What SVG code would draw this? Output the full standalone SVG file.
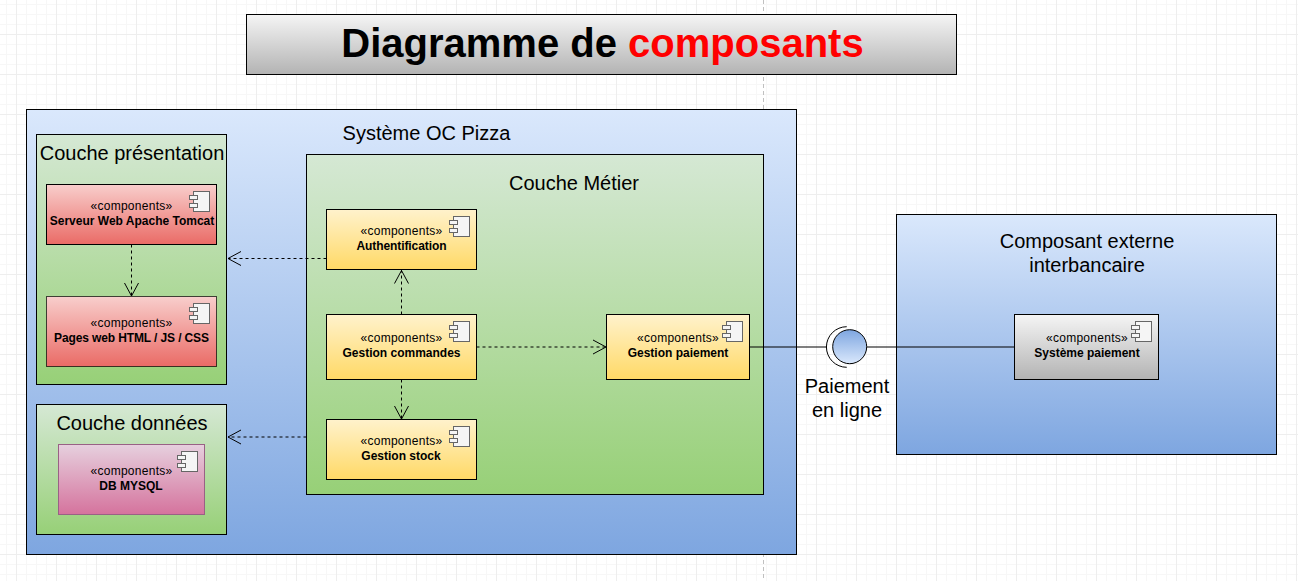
<svg xmlns="http://www.w3.org/2000/svg" xmlns:xlink="http://www.w3.org/1999/xlink" width="1298" height="581" viewBox="0 0 1298 581">
<style>
text{font-family:"Liberation Sans",Arial,sans-serif;text-anchor:middle;fill:#000}
.big{font-size:20px}
.st{font-size:12px;letter-spacing:.28px}
.nm{font-size:12px;font-weight:bold}
.box{stroke:#000;stroke-width:1}
.conn{fill:none;stroke:#000;stroke-width:1;stroke-dasharray:3 3}
.arr{fill:none;stroke:#000;stroke-width:1}
.wire{stroke:#000;stroke-opacity:.5;stroke-width:2;fill:none}
.ib{fill:#f5f5f5;stroke:#666;stroke-width:1}
.minor{stroke:#f7f7f7;stroke-width:1;fill:none}
.major{stroke:#eee;stroke-width:1;fill:none}
</style>
<defs>
<linearGradient id="gBlue" x1="0" y1="0" x2="0" y2="1"><stop offset="0" stop-color="#dae8fc"/><stop offset="1" stop-color="#7ea6e0"/></linearGradient>
<linearGradient id="gGreen" x1="0" y1="0" x2="0" y2="1"><stop offset="0" stop-color="#d5e8d4"/><stop offset="1" stop-color="#97d077"/></linearGradient>
<linearGradient id="gRed" x1="0" y1="0" x2="0" y2="1"><stop offset="0" stop-color="#f8cecc"/><stop offset="1" stop-color="#ea6b66"/></linearGradient>
<linearGradient id="gYellow" x1="0" y1="0" x2="0" y2="1"><stop offset="0" stop-color="#fff2cc"/><stop offset="1" stop-color="#ffd966"/></linearGradient>
<linearGradient id="gPink" x1="0" y1="0" x2="0" y2="1"><stop offset="0" stop-color="#e6d0de"/><stop offset="1" stop-color="#d5739d"/></linearGradient>
<linearGradient id="gGray" x1="0" y1="0" x2="0" y2="1"><stop offset="0" stop-color="#f5f5f5"/><stop offset="1" stop-color="#b3b3b3"/></linearGradient>
<linearGradient id="gCircle" x1="0" y1="0" x2="0" y2="1"><stop offset="0" stop-color="#7ea6e0"/><stop offset="1" stop-color="#dae8fc"/></linearGradient>
<pattern id="gridMinor" x="6" y="4" width="10" height="10" patternUnits="userSpaceOnUse"><path d="M0.5 0V10M0 0.5H10" class="minor"/></pattern>
<pattern id="gridMajor" x="16" y="34" width="40" height="40" patternUnits="userSpaceOnUse"><path d="M0.5 0V40M0 0.5H40" class="major"/></pattern>
<g id="icon"><rect x="-16" y="0" width="16" height="20" class="ib"/><rect x="-20" y="4" width="8" height="4" class="ib"/><rect x="-20" y="12" width="8" height="4" class="ib"/></g>
</defs>
<rect width="1298" height="581" fill="#fff"/>
<rect width="1298" height="581" fill="url(#gridMinor)"/>
<rect width="1298" height="581" fill="url(#gridMajor)"/>
<path d="M763.5 0V581" stroke="#c0c0c0" stroke-width="1" stroke-dasharray="4 3" fill="none"/>

<g id="title"><rect x="246.5" y="14.5" width="710" height="60" fill="url(#gGray)" class="box"/>
<text x="602.5" y="57" style="font-size:40px;font-weight:bold">Diagramme de <tspan fill="#ff0000">composants</tspan></text></g>

<g id="systeme"><rect x="26.5" y="109.5" width="770" height="445" fill="url(#gBlue)" class="box"/>
<text x="426.5" y="140" class="big">Système OC Pizza</text></g>

<g id="couche-presentation"><rect x="36.5" y="134.5" width="190" height="250" fill="url(#gGreen)" class="box"/>
<text x="132" y="160" class="big">Couche présentation</text></g>

<g id="couche-donnees"><rect x="36.5" y="404.5" width="190" height="130" fill="url(#gGreen)" class="box"/>
<text x="132" y="430" class="big">Couche données</text></g>

<g id="couche-metier"><rect x="306.5" y="154.5" width="457" height="340" fill="url(#gGreen)" class="box"/>
<text x="574" y="190" class="big">Couche Métier</text></g>

<g id="composant-externe"><rect x="896.5" y="214.5" width="380" height="240" fill="url(#gBlue)" class="box"/>
<text x="1087" y="248" class="big">Composant externe</text>
<text x="1087" y="272" class="big">interbancaire</text></g>

<g id="serveur-web"><rect x="46.5" y="184.5" width="170" height="60" fill="url(#gRed)" class="box"/>
<use xlink:href="#icon" href="#icon" x="209.5" y="191.5"/>
<text x="131.5" y="210" class="st">«components»</text><text x="132" y="225" class="nm">Serveur Web Apache Tomcat</text></g>

<g id="pages-web"><rect x="46.5" y="296.5" width="170" height="70" fill="url(#gRed)" class="box" stroke-opacity=".7"/>
<use xlink:href="#icon" href="#icon" x="209.5" y="303.5"/>
<text x="131.5" y="327" class="st">«components»</text><text x="131.5" y="342" class="nm" textLength="155">Pages web HTML / JS / CSS</text></g>

<g id="db-mysql"><rect x="58.5" y="444.5" width="146" height="70" fill="url(#gPink)" stroke="#996185" stroke-width="1"/>
<use xlink:href="#icon" href="#icon" x="197.5" y="451.5"/>
<text x="131.5" y="475" class="st">«components»</text><text x="131" y="490" class="nm">DB MYSQL</text></g>

<g id="authentification"><rect x="326.5" y="209.5" width="150" height="60" fill="url(#gYellow)" class="box"/>
<use xlink:href="#icon" href="#icon" x="469.5" y="216.5"/>
<text x="401.5" y="235" class="st">«components»</text><text x="401.5" y="250" class="nm" textLength="90">Authentification</text></g>

<g id="gestion-commandes"><rect x="326.5" y="314.5" width="150" height="65" fill="url(#gYellow)" class="box"/>
<use xlink:href="#icon" href="#icon" x="469.5" y="321.5"/>
<text x="401.5" y="342" class="st">«components»</text><text x="401.5" y="357" class="nm">Gestion commandes</text></g>

<g id="gestion-stock"><rect x="326.5" y="419.5" width="150" height="60" fill="url(#gYellow)" class="box"/>
<use xlink:href="#icon" href="#icon" x="469.5" y="426.5"/>
<text x="401.5" y="445" class="st">«components»</text><text x="401" y="460" class="nm">Gestion stock</text></g>

<g id="gestion-paiement"><rect x="606.5" y="314.5" width="143" height="65" fill="url(#gYellow)" class="box"/>
<use xlink:href="#icon" href="#icon" x="742.5" y="321.5"/>
<text x="678" y="342" class="st">«components»</text><text x="678" y="357" class="nm">Gestion paiement</text></g>

<g id="systeme-paiement"><rect x="1014.5" y="314.5" width="144" height="65" fill="url(#gGray)" class="box"/>
<use xlink:href="#icon" href="#icon" x="1151.5" y="321.5"/>
<text x="1087" y="342" class="st">«components»</text><text x="1087" y="357" class="nm">Système paiement</text></g>

<g id="connecteurs">
<path class="conn" d="M131.5 244.5V296"/><path class="arr" d="M124.5 283L131.5 296L138.5 283"/>
<path class="conn" d="M326.5 258.5H228"/><path class="arr" d="M241 251.5L228 258.5L241 265.5"/>
<path class="conn" d="M306.5 437H228"/><path class="arr" d="M241 430L228 437L241 444"/>
<path class="conn" d="M401.5 314.5V270"/><path class="arr" d="M394.5 283.5L401.5 270.5L408.5 283.5"/>
<path class="conn" d="M401.5 379.5V419"/><path class="arr" d="M394.5 406L401.5 419L408.5 406"/>
<path class="conn" d="M476.5 347H606"/><path class="arr" d="M593 340L606 347L593 354"/>
<path class="wire" d="M749.5 347H827M866.5 347H1014.5"/>
</g>

<g id="interface-paiement">
<path d="M846.7 326.7A20.3 20.3 0 0 0 846.7 367.3" fill="none" stroke="#000" stroke-width="1"/>
<circle cx="849.7" cy="346.7" r="17" fill="url(#gCircle)" stroke="#000" stroke-width="1"/>
<text x="847" y="393" class="big">Paiement</text>
<text x="847" y="417" class="big">en ligne</text>
</g>
</svg>
